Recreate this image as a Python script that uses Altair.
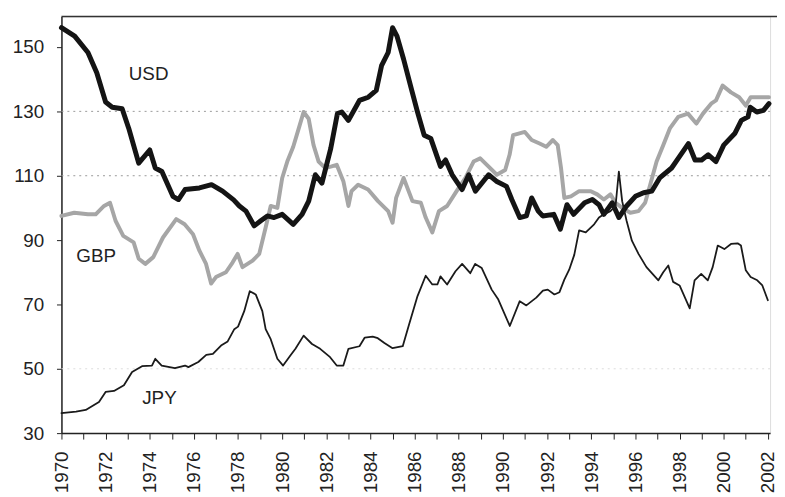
import altair as alt
import pandas as pd

# ---- data ----
usd_years = [1970.0, 1970.6, 1971.2, 1971.6, 1972.0, 1972.3, 1972.75, 1973.05, 1973.5, 1974.0,
             1974.25, 1974.55, 1975.05, 1975.3, 1975.6, 1976.25, 1976.8, 1977.3, 1977.8, 1978.06,
             1978.36, 1978.73, 1979.03, 1979.33, 1979.63, 1980.0, 1980.5, 1980.9, 1981.2, 1981.5,
             1981.8, 1982.2, 1982.5, 1982.7, 1983.0, 1983.5, 1983.9, 1984.26, 1984.5, 1984.8,
             1985.0, 1985.2, 1985.5, 1985.83, 1986.13, 1986.43, 1986.73, 1987.17, 1987.4, 1987.7,
             1988.15, 1988.45, 1988.75, 1989.35, 1989.7, 1990.16, 1990.4, 1990.76, 1991.06, 1991.3,
             1991.6, 1991.8, 1992.3, 1992.6, 1992.9, 1993.2, 1993.7, 1994.05, 1994.35, 1994.57,
             1994.95, 1995.25, 1995.6, 1996.0, 1996.37, 1996.74, 1997.1, 1997.64, 1997.94, 1998.4,
             1998.7, 1999.0, 1999.3, 1999.65, 2000.0, 2000.5, 2000.8, 2001.1, 2001.2, 2001.5,
             2001.8, 2002.05]
usd_values = [156, 153.4, 148.3, 142, 132.9, 131.3, 130.8, 124.7, 113.9, 118,
              112.4, 111.3, 103.6, 102.6, 105.7, 106.2, 107.2, 105.2, 102.5, 100.6,
              99, 94.4, 96, 97.5, 97, 98, 94.9, 98, 102.1, 110.3,
              107.7, 118.5, 129.3, 129.8, 127.2, 133.4, 134.4, 136.5, 144.2, 148.3,
              156, 153.4, 146.2, 137.5, 129.8, 122.6, 121.6, 112.9, 114.9, 110.3,
              105.7, 110.3, 105.2, 110.3, 108.3, 106.7, 102.6, 97, 97.5, 103.1,
              99, 97.5, 98, 93.4, 101, 98, 101.6, 102.6, 101, 98,
              101.6, 97, 100.6, 103.6, 104.7, 105.2, 109.3, 112.4, 115.4, 120,
              114.9, 114.9, 116.5, 114.4, 119.5, 123.1, 127.2, 128.3, 131.3, 129.8,
              130.3, 132.4]

gbp_years = [1970.0, 1970.58, 1971.2, 1971.55, 1971.93, 1972.2, 1972.45, 1972.8, 1973.27, 1973.5,
             1973.8, 1974.16, 1974.6, 1975.2, 1975.58, 1975.96, 1976.25, 1976.55, 1976.78, 1977.0,
             1977.45, 1977.75, 1977.98, 1978.2, 1978.66, 1978.96, 1979.25, 1979.48, 1979.78, 1980.0,
             1980.23, 1980.5, 1980.75, 1980.97, 1981.2, 1981.42, 1981.65, 1981.95, 1982.24, 1982.47,
             1982.77, 1983.0, 1983.14, 1983.44, 1983.89, 1984.34, 1984.8, 1985.0, 1985.16, 1985.5,
             1985.9, 1986.28, 1986.5, 1986.8, 1987.1, 1987.47, 1987.9, 1988.3, 1988.67, 1988.97,
             1989.34, 1989.72, 1990.1, 1990.3, 1990.46, 1990.99, 1991.3, 1991.66, 1991.96, 1992.26,
             1992.48, 1992.63, 1992.78, 1993.08, 1993.45, 1993.98, 1994.27, 1994.57, 1994.87, 1995.1,
             1995.4, 1995.77, 1996.14, 1996.44, 1996.67, 1996.96, 1997.26, 1997.56, 1997.94, 1998.38,
             1998.76, 1999.06, 1999.43, 1999.65, 1999.95, 2000.33, 2000.7, 2001.0, 2001.22, 2001.6,
             2002.05]
gbp_values = [97.5, 98.5, 98, 98, 100.6, 101.6, 96, 91.3, 89.3, 84.2,
              82.6, 84.7, 90.8, 96.5, 94.9, 91.8, 86.7, 82.6, 76.5, 78.5,
              80, 83, 85.7, 81.6, 83.6, 85.7, 93.9, 100.6, 100, 109.3,
              114.4, 119, 124.7, 129.8, 127.7, 119.5, 114.4, 112.4, 112.9, 113.4,
              108.3, 100.6, 105.2, 107.2, 105.7, 102.1, 99, 95.4, 103.1, 109.3,
              102.1, 101.6, 97, 92.4, 99, 100.6, 105.2, 109.3, 114.4, 115.4,
              112.9, 110.3, 111.8, 116.5, 122.6, 123.6, 121.1, 120, 119, 121.1,
              119.5, 112.4, 103.1, 103.6, 105.2, 105.2, 104.2, 102.6, 104.2, 101.6,
              100, 98.5, 99, 101.6, 107.2, 114.4, 119.5, 124.7, 128.3, 129.3,
              126.2, 129.3, 132.4, 133.4, 138, 135.9, 134.4, 131.8, 134.4, 134.4,
              134.4]

jpy_years = [1970.0, 1970.66, 1971.1, 1971.7, 1972.0, 1972.38, 1972.83, 1973.2, 1973.65, 1974.1,
             1974.25, 1974.54, 1975.14, 1975.6, 1975.75, 1976.2, 1976.56, 1976.86, 1977.23, 1977.53,
             1977.83, 1978.0, 1978.28, 1978.53, 1978.8, 1979.1, 1979.25, 1979.48, 1979.78, 1980.04,
             1980.37, 1980.6, 1980.97, 1981.35, 1981.72, 1982.17, 1982.47, 1982.77, 1983.0, 1983.5,
             1983.74, 1984.1, 1984.33, 1984.63, 1985.0, 1985.46, 1985.75, 1986.13, 1986.5, 1986.8,
             1987.03, 1987.17, 1987.47, 1987.85, 1988.15, 1988.52, 1988.74, 1989.04, 1989.49, 1989.79,
             1990.31, 1990.76, 1991.06, 1991.51, 1991.81, 1992.03, 1992.33, 1992.56, 1992.78, 1993.0,
             1993.23, 1993.45, 1993.75, 1994.13, 1994.35, 1994.57, 1994.87, 1995.1, 1995.25, 1995.4,
             1995.6, 1995.84, 1996.14, 1996.5, 1997.04, 1997.26, 1997.49, 1997.71, 1998.0, 1998.46,
             1998.68, 1998.98, 1999.28, 1999.5, 1999.73, 2000.03, 2000.33, 2000.63, 2000.78, 2001.0,
             2001.22, 2001.52, 2001.75, 2002.0]
jpy_values = [36.2, 36.7, 37.2, 39.7, 42.8, 43.1, 44.9, 49, 50.8, 51,
              53.1, 51, 50.2, 51, 50.5, 52.1, 54.3, 54.6, 57.2, 58.5,
              62.3, 63.1, 67.9, 74.1, 73.1, 67.9, 62.3, 59.2, 53.1, 51,
              54.1, 56.2, 60.3, 57.7, 56.2, 53.6, 51, 51, 56.2, 57,
              59.7, 60, 59.5, 58, 56.4, 57, 63.8, 72.6, 78.9, 76.2,
              76.2, 78.7, 76.2, 80.3, 82.6, 79.7, 82.6, 81.3, 74.6, 71.5,
              63.3, 71, 69.7, 72.1, 74.3, 74.6, 73.1, 73.8, 77.7, 80.8,
              85.4, 93, 92.4, 94.9, 97, 98, 99, 100.6, 111.3, 102.1,
              96, 89.8, 85.7, 81.6, 77.5, 80, 82.1, 77, 75.9, 68.8,
              77.5, 79.5, 77.5, 81.6, 88.3, 87.2, 88.8, 89, 88.3, 80.6,
              78.5, 77.5, 75.9, 71.3]

series_names = ["USD", "GBP", "JPY"]
label_years = [1973.95, 1971.57, 1974.44]
label_values = [141.7, 85.1, 40.8]

y_ticks = [30, 50, 70, 90, 110, 130, 150]
grid_strong = [110, 130]
grid_faint = [50]
x_ticks = list(range(1970, 2003))

# ---- chart ----
W, H = 716, 421
FONT = "Liberation Sans"
x_scale = alt.Scale(domain=[1970, 2002.1], nice=False, zero=False)
y_scale = alt.Scale(domain=[30, 159.5], nice=False, zero=False)

x_axis = alt.Axis(values=x_ticks,
                  labelExpr="datum.value % 2 == 0 ? format(datum.value, 'd') : ''",
                  labelAngle=270, tickSize=6, labelPadding=12, labelFontSize=19,
                  labelFont=FONT, labelColor="#222", domainColor="#222", domainWidth=1.5,
                  tickColor="#222", tickWidth=1, grid=False, title=None,
                  labelOverlap=False, labelFlush=False)
y_axis = alt.Axis(values=y_ticks, tickSize=5, labelPadding=13, labelFontSize=19,
                  labelFont=FONT, labelColor="#222", domainColor="#222", domainWidth=1.5,
                  tickColor="#222", grid=False, title=None, labelFlush=False,
                  labelOverlap=False)


def line_layer(years, values, color, width):
    df = pd.DataFrame({"year": years, "value": values})
    return alt.Chart(df).mark_line(color=color, strokeWidth=width,
                                   strokeJoin="round", strokeCap="round").encode(
        x=alt.X("year:Q", scale=x_scale, axis=x_axis),
        y=alt.Y("value:Q", scale=y_scale, axis=y_axis),
    )


grid1 = alt.Chart(pd.DataFrame({"value": grid_strong})).mark_rule(
    color="#9a9a9a", strokeDash=[2, 4], strokeWidth=1).encode(
    y=alt.Y("value:Q", scale=y_scale, axis=y_axis))
grid2 = alt.Chart(pd.DataFrame({"value": grid_faint})).mark_rule(
    color="#dddddd", strokeDash=[2, 4], strokeWidth=1).encode(
    y=alt.Y("value:Q", scale=y_scale, axis=y_axis))

top_border = alt.Chart(pd.DataFrame({"k": [0]})).mark_rule(
    color="#333", strokeWidth=1.5).encode(
    x=alt.value(0), x2=alt.value(W + 7), y=alt.value(0))

gbp = line_layer(gbp_years, gbp_values, "#a6a6a6", 4)
usd = line_layer(usd_years, usd_values, "#141414", 5)
jpy = line_layer(jpy_years, jpy_values, "#1a1a1a", 1.8)

labels = alt.Chart(pd.DataFrame({"name": series_names, "year": label_years,
                                 "value": label_values})).mark_text(
    font=FONT, fontSize=19, color="#222", align="center", baseline="middle").encode(
    x=alt.X("year:Q", scale=x_scale, axis=x_axis),
    y=alt.Y("value:Q", scale=y_scale, axis=y_axis),
    text="name:N")

chart = alt.layer(grid2, grid1, top_border, gbp, usd, jpy, labels).properties(
    width=W, height=H,
    autosize=alt.AutoSizeParams(type="none"),
    padding={"left": 54, "top": 6, "right": 7, "bottom": 62},
).configure_view(stroke=None).configure(background="white")

chart.save("out.html", embed_options={"renderer": "svg", "actions": False})
